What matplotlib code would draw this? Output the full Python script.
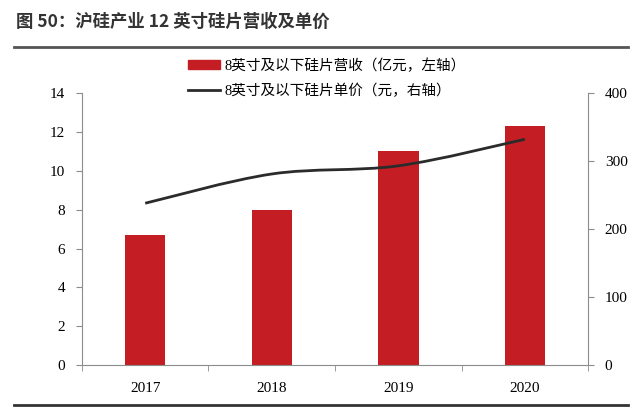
import matplotlib.pyplot as plt
from matplotlib.path import Path
from matplotlib.patches import PathPatch
from matplotlib.lines import Line2D
import numpy as np

# data
years = ["2017", "2018", "2019", "2020"]
revenue = [6.7, 8.0, 11.0, 12.3]      # 亿元, left axis
price = [238, 281, 293, 332]          # 元, right axis

title = "图 50：沪硅产业 12 英寸硅片营收及单价"
bar_label = "8英寸及以下硅片营收（亿元，左轴）"
line_label = "8英寸及以下硅片单价（元，右轴）"

serif = ["Liberation Serif", "Noto Sans CJK SC"]
plt.rcParams["font.family"] = serif

bar_color = "#C41E24"
line_color = "#2b2b2b"
axis_color = "#8c8c8c"

fig = plt.figure(figsize=(6.4, 4.08), dpi=100)
ax = fig.add_axes([0.128, 0.105, 0.791, 0.667])
ax2 = ax.twinx()

x = np.arange(len(years))
ax.bar(x, revenue, width=0.32, color=bar_color, zorder=2)

# smooth line like the Excel original: Catmull-Rom segments as Bezier curves
pts = np.column_stack([x, price]).astype(float)
verts = [tuple(pts[0])]
codes = [Path.MOVETO]
for i in range(len(pts) - 1):
    p0 = pts[i - 1] if i > 0 else pts[i]
    p1, p2 = pts[i], pts[i + 1]
    p3 = pts[i + 2] if i + 2 < len(pts) else pts[i + 1]
    c1 = p1 + (p2 - p0) / 6.0
    c2 = p2 - (p3 - p1) / 6.0
    verts += [tuple(c1), tuple(c2), tuple(p2)]
    codes += [Path.CURVE4] * 3
ax2.add_patch(PathPatch(Path(verts, codes), facecolor="none",
                        edgecolor=line_color, lw=2, zorder=3))

ax.set_xlim(-0.5, len(years) - 0.5)
ax.set_ylim(0, 14)
ax.set_yticks(range(0, 15, 2))
ax2.set_ylim(0, 400)
ax2.set_yticks(range(0, 401, 100))

ax.set_xticks(x)
ax.set_xticklabels(years)
ax.set_xticks(np.arange(-0.5, len(years), 1), minor=True)
ax.tick_params(axis="x", which="major", length=0, pad=12, labelsize=11)
ax.tick_params(axis="x", which="minor", length=4, color=axis_color, direction="out")
ax.tick_params(axis="y", length=4, color=axis_color, labelsize=11, pad=8)
ax2.tick_params(axis="y", length=4, color=axis_color, labelsize=11, pad=8)

for a in (ax, ax2):
    a.spines["top"].set_visible(False)
    for s in ("left", "right", "bottom"):
        a.spines[s].set_color(axis_color)
ax.spines["right"].set_visible(False)
ax2.spines["left"].set_visible(False)
ax2.spines["bottom"].set_visible(False)

handles = [plt.Rectangle((0, 0), 1, 1, color=bar_color),
           Line2D([], [], color=line_color, lw=2)]
fig.legend(handles, [bar_label, line_label], loc="upper left",
           bbox_to_anchor=(0.283, 0.875), frameon=False, fontsize=10.5,
           handlelength=2.2, handleheight=0.6, handletextpad=0.3,
           labelspacing=0.75, borderpad=0)

fig.text(0.025, 0.925, title, fontsize=12.5, fontweight="bold", color="#333333",
         family=["Noto Sans CJK SC", "DejaVu Sans"], va="bottom")
fig.add_artist(Line2D([0.022, 0.982], [0.885, 0.885], color="#555555", lw=2))
fig.add_artist(Line2D([0.022, 0.982], [0.008, 0.008], color="#333333", lw=2))

fig.savefig("out.png", dpi=100)
